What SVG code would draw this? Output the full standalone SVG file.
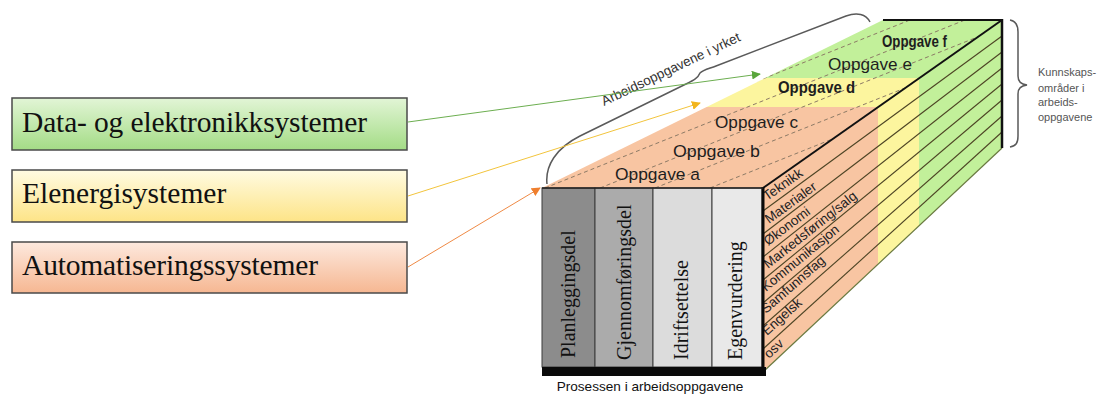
<svg xmlns="http://www.w3.org/2000/svg" width="1100" height="399" viewBox="0 0 1100 399">
<defs>
<linearGradient id="gGreen" x1="0" y1="0" x2="0" y2="1"><stop offset="0" stop-color="#e2f5d6"/><stop offset="1" stop-color="#a4dc86"/></linearGradient>
<linearGradient id="gYellow" x1="0" y1="0" x2="0" y2="1"><stop offset="0" stop-color="#fffbe2"/><stop offset="1" stop-color="#fde487"/></linearGradient>
<linearGradient id="gOrange" x1="0" y1="0" x2="0" y2="1"><stop offset="0" stop-color="#fde9de"/><stop offset="1" stop-color="#f6b792"/></linearGradient>
<clipPath id="topClip"><polygon points="542,188 763,188 1002,20 883,20"/></clipPath>
<clipPath id="rightClip"><polygon points="763,188 1002,20 1002,148 763,372"/></clipPath>
<marker id="mGreen" viewBox="0 0 10 10" refX="9" refY="5" markerWidth="9" markerHeight="9" markerUnits="userSpaceOnUse" orient="auto"><path d="M0,0 L10,5 L0,10 z" fill="#5aa63c"/></marker>
<marker id="mYellow" viewBox="0 0 10 10" refX="9" refY="5" markerWidth="9" markerHeight="9" markerUnits="userSpaceOnUse" orient="auto"><path d="M0,0 L10,5 L0,10 z" fill="#f2b51c"/></marker>
<marker id="mOrange" viewBox="0 0 10 10" refX="9" refY="5" markerWidth="9" markerHeight="9" markerUnits="userSpaceOnUse" orient="auto"><path d="M0,0 L10,5 L0,10 z" fill="#ef7f2e"/></marker>
</defs>
<style>
.box{stroke:#4a4a4a;stroke-width:1.5}
.boxtxt{font-family:"Liberation Serif","Times New Roman",serif;font-size:29.5px;fill:#111}
.task{font-family:"Liberation Sans",Arial,sans-serif;font-size:17px;fill:#1e1e1e}
.taskb{font-family:"Liberation Sans",Arial,sans-serif;font-size:16px;font-weight:bold;fill:#1e1e1e}
.vert{font-family:"Liberation Serif","Times New Roman",serif;font-size:20px;fill:#111}
.know{font-family:"Liberation Sans",Arial,sans-serif;font-size:13.5px;fill:#222}
.dash{stroke:#8c7a66;stroke-width:1;stroke-dasharray:4 3;fill:none}
.row{stroke:#4d4424;stroke-width:1.1}
.col{stroke:#3c3c3c;stroke-width:1}
.brace{fill:none;stroke:#5a5a5a;stroke-width:1.5}
.note{font-family:"Liberation Sans",Arial,sans-serif;font-size:11px;fill:#555}
</style>
<rect width="1100" height="399" fill="#ffffff"/>

<g id="box-data">
<rect class="box" x="12" y="98" width="395" height="52" fill="url(#gGreen)"/>
<text class="boxtxt" x="22" y="132" textLength="345" lengthAdjust="spacing">Data- og elektronikksystemer</text>
</g>
<g id="box-elenergi">
<rect class="box" x="12" y="170" width="395" height="52" fill="url(#gYellow)"/>
<text class="boxtxt" x="22" y="203">Elenergisystemer</text>
</g>
<g id="box-auto">
<rect class="box" x="12" y="242" width="395" height="51" fill="url(#gOrange)"/>
<text class="boxtxt" x="22" y="275" textLength="296" lengthAdjust="spacing">Automatiseringssystemer</text>
</g>

<g id="cube-top">
<g clip-path="url(#topClip)">
<rect x="500" y="107" width="520" height="90" fill="#f8c5a2"/>
<rect x="500" y="78" width="520" height="29" fill="#fcf59e"/>
<rect x="500" y="0" width="520" height="78" fill="#c2f09a"/>
<line class="dash" x1="490" y1="188" x2="1040" y2="-32"/>
<line class="dash" x1="545" y1="188" x2="1095" y2="-32"/>
<line class="dash" x1="600" y1="188" x2="1150" y2="-32"/>
<line class="dash" x1="655" y1="188" x2="1205" y2="-32"/>
<line class="dash" x1="710" y1="188" x2="1260" y2="-32"/>
</g>
<line x1="883" y1="20" x2="1002" y2="20" stroke="#111" stroke-width="2"/>
<text class="task" x="615" y="180" textLength="85" lengthAdjust="spacingAndGlyphs">Oppgave a</text>
<text class="task" x="673" y="157" textLength="87" lengthAdjust="spacingAndGlyphs">Oppgave b</text>
<text class="task" x="715" y="128" textLength="83" lengthAdjust="spacingAndGlyphs">Oppgave c</text>
<text class="taskb" x="778" y="93" textLength="77" lengthAdjust="spacingAndGlyphs">Oppgave d</text>
<text class="task" x="828" y="70" textLength="84" lengthAdjust="spacingAndGlyphs">Oppgave e</text>
<text class="taskb" x="882" y="47" textLength="65" lengthAdjust="spacingAndGlyphs">Oppgave f</text>
</g>

<g id="cube-right">
<g clip-path="url(#rightClip)">
<rect x="760" y="0" width="118" height="400" fill="#f8c5a2"/>
<rect x="878" y="0" width="41" height="400" fill="#fcf59e"/>
<rect x="919" y="0" width="90" height="400" fill="#c2f09a"/>
</g>
<line class="row" x1="763" y1="211" x2="1002" y2="36"/>
<line class="row" x1="763" y1="234" x2="1002" y2="52"/>
<line class="row" x1="763" y1="257" x2="1002" y2="68"/>
<line class="row" x1="763" y1="280" x2="1002" y2="84"/>
<line class="row" x1="763" y1="303" x2="1002" y2="100"/>
<line class="row" x1="763" y1="326" x2="1002" y2="116"/>
<line class="row" x1="763" y1="349" x2="1002" y2="132"/>
<line x1="763" y1="372" x2="1002" y2="148" stroke="#6a7a40" stroke-width="1.2"/>
<line x1="763" y1="188" x2="1002" y2="20" stroke="#111" stroke-width="2"/>
<line x1="1002" y1="19" x2="1002" y2="148" stroke="#111" stroke-width="2.5"/>
<text class="know" transform="translate(767,201) rotate(-35)">Teknikk</text>
<text class="know" transform="translate(769,224) rotate(-36)">Materialer</text>
<text class="know" transform="translate(768,246) rotate(-37)">Økonomi</text>
<text class="know" transform="translate(768,269) rotate(-38.5)">Markedsføring/salg</text>
<text class="know" transform="translate(766,292) rotate(-39.5)">Kommunikasjon</text>
<text class="know" transform="translate(766,314) rotate(-41)">Samfunnsfag</text>
<text class="know" transform="translate(767,336) rotate(-42)">Engelsk</text>
<text class="know" transform="translate(769,359) rotate(-43)">osv</text>
</g>

<g id="cube-front">
<rect class="col" x="542" y="188" width="53" height="179" fill="#8c8c8c"/>
<rect class="col" x="595" y="188" width="58" height="179" fill="#ababab"/>
<rect class="col" x="653" y="188" width="59" height="179" fill="#dcdcdc"/>
<rect class="col" x="712" y="188" width="50" height="179" fill="#e9e9e9"/>
<rect x="542" y="367" width="224" height="9" fill="#0a0a0a"/>
<line x1="763" y1="187" x2="763" y2="376" stroke="#0a0a0a" stroke-width="3"/>
<line x1="542" y1="188" x2="763" y2="188" stroke="#222" stroke-width="1.5"/>
<text class="vert" transform="translate(575,358) rotate(-90)">Planleggingsdel</text>
<text class="vert" transform="translate(631,360) rotate(-90)">Gjennomføringsdel</text>
<text class="vert" transform="translate(688,360) rotate(-90)">Idriftsettelse</text>
<text class="vert" transform="translate(742,360) rotate(-90)">Egenvurdering</text>
<text x="650" y="391" text-anchor="middle" font-family="Liberation Sans, Arial, sans-serif" font-size="13.6" fill="#111">Prosessen i arbeidsoppgavene</text>
</g>

<g id="brace-tasks">
<path class="brace" d="M547,184 C545,166 556,148 580,136 L686,84 C694,80 698,78 700,73 C703,70 708,69 716,66 L846,16 C857,12 866,14 870,22"/>
<text transform="translate(604,106) rotate(-25.5)" font-family="Liberation Sans, Arial, sans-serif" font-size="13.5" fill="#333">Arbeidsoppgavene i yrket</text>
</g>

<g id="brace-knowledge">
<path class="brace" d="M1010,20 C1016,21 1018,25 1018,32 L1018,76 C1018,82 1021,84 1027,85 C1021,86 1018,88 1018,94 L1018,136 C1018,143 1016,146 1010,147"/>
<text class="note" x="1038" y="76">Kunnskaps-</text>
<text class="note" x="1038" y="92">områder i</text>
<text class="note" x="1038" y="106">arbeids-</text>
<text class="note" x="1038" y="121">oppgavene</text>
</g>

<g id="connectors">
<line x1="408" y1="122" x2="760" y2="74" stroke="#6cae50" stroke-width="1" marker-end="url(#mGreen)"/>
<line x1="408" y1="196" x2="700" y2="103" stroke="#f2c43c" stroke-width="1" marker-end="url(#mYellow)"/>
<line x1="408" y1="267" x2="540" y2="188" stroke="#ef8a45" stroke-width="1" marker-end="url(#mOrange)"/>
</g>
</svg>
